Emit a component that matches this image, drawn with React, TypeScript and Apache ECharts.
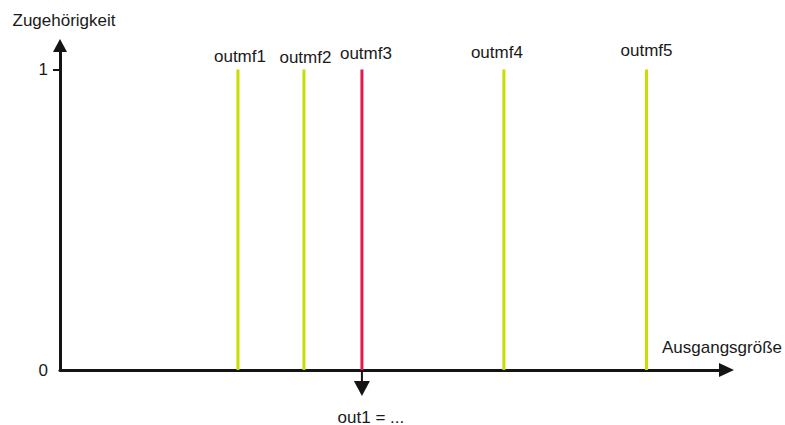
import React, { useEffect, useRef } from "react";
import * as echarts from "echarts";

// ---- data ----
const mfNames = ["outmf1", "outmf2", "outmf3", "outmf4", "outmf5"];
const mfPositions = [2.67, 3.66, 4.53, 6.66, 8.8];
const mfDegrees = [1, 1, 1, 1, 1];
const activeMf = "outmf3";
const yTickValues = [0, 1];
const yTickMarks = [1];
const outputLabel = "out1 = ...";
const outputValue = 4.53;
const xAxisName = "Ausgangsgröße";
const yAxisName = "Zugehörigkeit";

// ---- styles ----
const FONT = "'Liberation Sans', Arial, Helvetica, sans-serif";
const TEXT = "#1a1a1a";
const AXIS = "#141414";
const GREEN = "#c6df00";
const RED = "#e5194f";
const labelOffsets = [
  [2, 0],
  [1.5, 1],
  [4, -3],
  [-7, -4],
  [0, -6],
];

export default function App() {
  const ref = useRef<HTMLDivElement>(null);

  useEffect(() => {
    document.body.style.margin = "0";
    if (!ref.current) return;
    const chart = echarts.init(ref.current, undefined, { renderer: "svg" });

    const series = mfNames.map((name, i) => ({
      type: "line",
      name,
      silent: true,
      showSymbol: true,
      symbol: "circle",
      symbolSize: 0,
      lineStyle: { color: name === activeMf ? RED : GREEN, width: 3 },
      itemStyle: { color: name === activeMf ? RED : GREEN },
      emphasis: { disabled: true },
      data: [
        [mfPositions[i], 0],
        {
          value: [mfPositions[i], mfDegrees[i]],
          label: {
            show: true,
            position: "top",
            distance: 5,
            formatter: name,
            offset: labelOffsets[i],
            fontSize: 17,
            fontFamily: FONT,
            color: TEXT,
          },
        },
      ],
    }));

    chart.setOption({
      animation: false,
      textStyle: { fontFamily: FONT },
      grid: { left: 60, right: 57.5, top: 45.5, bottom: 55, containLabel: false },
      xAxis: {
        type: "value",
        min: 0,
        max: 10,
        name: xAxisName,
        nameLocation: "end",
        nameGap: 55.5,
        nameTextStyle: {
          align: "right",
          verticalAlign: "bottom",
          fontSize: 17,
          fontFamily: FONT,
          color: TEXT,
          padding: [0, 0, 14, 0],
        },
        axisLine: {
          show: true,
          onZero: true,
          symbol: ["none", "triangle"],
          symbolSize: [14, 15],
          lineStyle: { color: AXIS, width: 3 },
        },
        axisTick: { show: false },
        axisLabel: { show: false },
        splitLine: { show: false },
      },
      yAxis: {
        type: "value",
        min: 0,
        max: 1.08,
        interval: 1,
        name: yAxisName,
        nameLocation: "end",
        nameGap: 17,
        nameTextStyle: {
          fontSize: 17,
          fontFamily: FONT,
          color: TEXT,
          padding: [0, 0, 0, 8],
        },
        axisLine: {
          show: true,
          symbol: ["none", "triangle"],
          symbolSize: [14, 13],
          lineStyle: { color: AXIS, width: 3 },
        },
        axisTick: {
          show: true,
          length: 7,
          customValues: yTickMarks,
          lineStyle: { color: AXIS, width: 2 },
        },
        axisLabel: {
          show: true,
          margin: 12,
          customValues: yTickValues,
          fontSize: 17,
          fontFamily: FONT,
          color: TEXT,
          formatter: (v: number) => (yTickValues.includes(v) ? String(v) : ""),
        },
        splitLine: { show: false },
      },
      series,
    });

    const [px, py] = chart.convertToPixel({ xAxisIndex: 0, yAxisIndex: 0 }, [outputValue, 0]) as number[];
    chart.setOption({
      graphic: [
        {
          type: "line",
          silent: true,
          shape: { x1: px, y1: py, x2: px, y2: py + 13 },
          style: { stroke: AXIS, lineWidth: 2 },
        },
        {
          type: "polygon",
          silent: true,
          shape: { points: [[px - 8, py + 11], [px + 8, py + 11], [px, py + 26]] },
          style: { fill: AXIS },
        },
        {
          type: "text",
          silent: true,
          x: px + 9,
          y: py + 47,
          style: {
            text: outputLabel,
            fontSize: 17,
            fontFamily: FONT,
            fill: TEXT,
            align: "center",
            verticalAlign: "middle",
          },
        },
      ],
    });

    return () => chart.dispose();
  }, []);

  return <div ref={ref} style={{ width: 785, height: 425 }} />;
}
